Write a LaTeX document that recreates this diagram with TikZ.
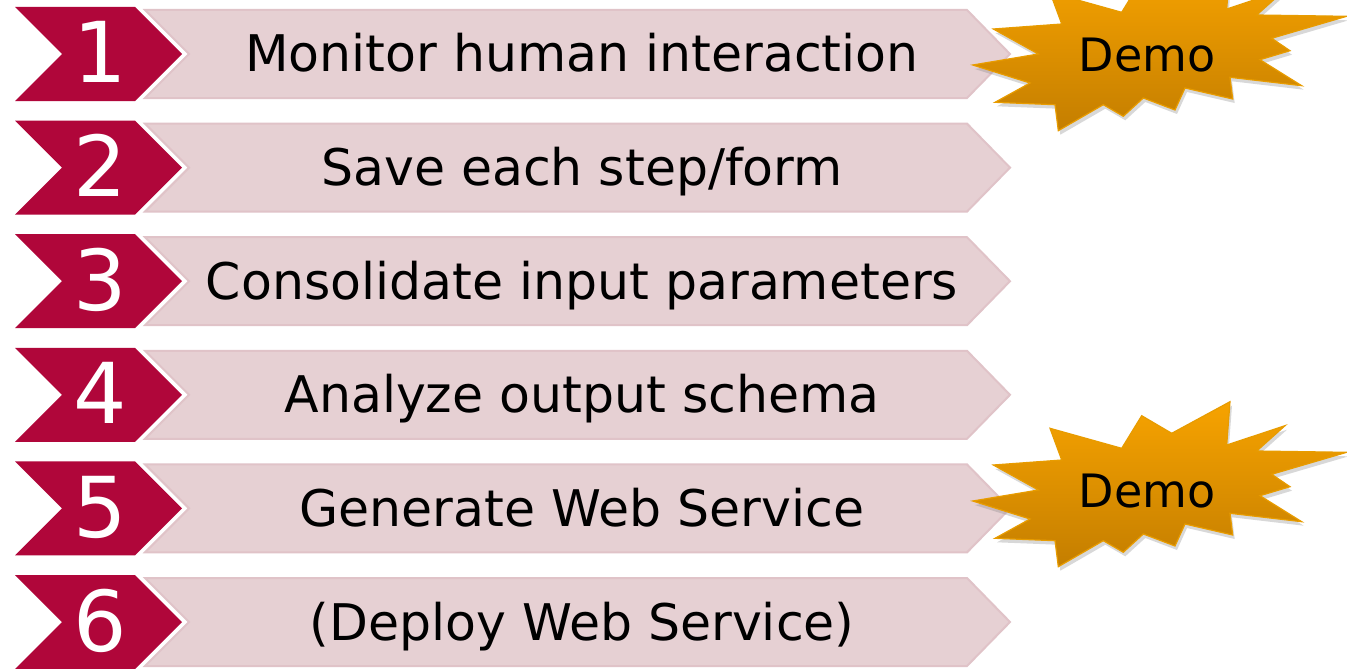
\documentclass[tikz,border=0pt]{standalone}
\usepackage{fontspec}
\setmainfont{DejaVu Sans}
\usetikzlibrary{shadows}
\definecolor{stepred}{HTML}{B0063A}
\definecolor{barfill}{HTML}{E6D0D3}
\definecolor{barline}{HTML}{E0C3C8}
\definecolor{startop}{HTML}{F7A300}
\definecolor{starbot}{HTML}{C47E00}
\definecolor{starline}{HTML}{E89C00}
\tikzset{
  x=1pt, y=-1pt,
  redchev/.style={fill=stepred, draw=none},
  pinkbar/.style={fill=barfill, draw=barline, line width=2pt, line join=miter},
  numtxt/.style={text=white, font=\fontsize{84}{90}\selectfont, anchor=base, inner sep=0pt},
  bartxt/.style={text=black, font=\fontsize{50.5}{60}\selectfont, anchor=base, inner sep=0pt},
  starshape/.style={top color=startop, bottom color=starbot, draw=starline, line width=1.2pt, line join=miter,
     drop shadow={opacity=0.3, shadow xshift=2pt, shadow yshift=-4pt}},
  demotxt/.style={text=black, font=\fontsize{46}{50}\selectfont, anchor=base, inner sep=0pt}
}
\newcommand{\steprow}[4]{%
  % #1 name, #2 center y, #3 number, #4 text
  \path[pinkbar] (145,#2-44) -- (967,#2-44) -- (1010,#2) -- (967,#2+44) -- (145,#2+44) -- (189,#2) -- cycle;
  \path[redchev] (15,#2-47) -- (135,#2-47) -- (182,#2) -- (135,#2+47) -- (15,#2+47) -- (62,#2) -- cycle;
  \node[numtxt] (n#1) at (100,#2+29) {#3};
  \node[bartxt] (t#1) at (582,#2+18) {#4};
}
\newcommand{\starburst}{%
  \path[starshape] (1050,428.3) -- (1121.7,448.3) -- (1141.7,415.7) -- (1171.7,433.3) -- (1230,401.7)
    -- (1226.7,445) -- (1285,425.7) -- (1256.7,451) -- (1346.7,452.3) -- (1271.7,474.3)
    -- (1290,486.7) -- (1260,495.7) -- (1301.7,521.7) -- (1230,513.3) -- (1232.7,535)
    -- (1185,524) -- (1175,546) -- (1143.3,534) -- (1123.3,552.3) -- (1103.3,540.7)
    -- (1058.3,566.7) -- (1055,540.7) -- (995,538.3) -- (1030,519) -- (972.7,501)
    -- (1038.3,490) -- (993.3,465) -- (1061.7,460) -- cycle;
}
\begin{document}
\begin{tikzpicture}
\useasboundingbox (0,0) rectangle (1347,669);
\clip (0,0) rectangle (1347,669);
\fill[white] (0,0) rectangle (1347,669);
\steprow{1}{54}{1}{Monitor human interaction}
\steprow{2}{167.6}{2}{Save each step/form}
\steprow{3}{281.2}{3}{Consolidate input parameters}
\steprow{4}{394.8}{4}{Analyze output schema}
\steprow{5}{508.4}{5}{Generate Web Service}
\steprow{6}{622}{6}{(Deploy Web Service)}
\begin{scope}[shift={(0,-436)}]
  \starburst
  \node[demotxt] (demoA) at (1147,507) {Demo};
\end{scope}
\starburst
\node[demotxt] (demoB) at (1147,507) {Demo};
\end{tikzpicture}
\end{document}
